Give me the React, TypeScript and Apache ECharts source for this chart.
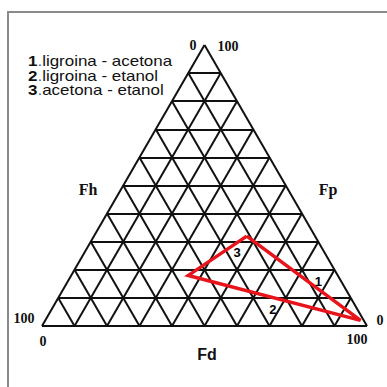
import React, { useEffect, useRef } from "react";
import * as echarts from "echarts";

// Ternary compositions (Fd, Fp, Fh) in percent
const solventNames = ["acetona", "etanol", "ligroina"];
const fdValues = [47, 36, 97];
const fpValues = [32, 18, 2];
const fhValues = [21, 46, 1];

// Positions of the pair markers along the triangle edges (Fd, Fp, Fh)
const pairLabels = ["1", "2", "3"];
const pairFd = [77, 68, 47];
const pairFp = [16, 6, 26];
const pairFh = [7, 26, 27];

const legendLines = ["ligroina - acetona", "ligroina - etanol", "acetona - etanol"];

// Grid divisions of each fraction
const gridTicks = [0, 10, 20, 30, 40, 50, 60, 70, 80, 90];

const H = Math.sqrt(3) / 2;

// Fd grows toward the right corner, Fp toward the apex, Fh toward the left corner
function toXY(fd: number, fp: number, _fh: number): [number, number] {
  return [(fd + fp / 2) / 100, (fp / 100) * H];
}

export default function App() {
  const ref = useRef<HTMLDivElement>(null);

  useEffect(() => {
    document.body.style.margin = "0";
    if (!ref.current) return;
    const chart = echarts.init(ref.current, undefined, { renderer: "svg" });

    const gridLines: { coords: [number, number][] }[] = [];
    gridTicks.forEach((t) => {
      // constant Fp
      gridLines.push({ coords: [toXY(0, t, 100 - t), toXY(100 - t, t, 0)] });
      // constant Fd
      gridLines.push({ coords: [toXY(t, 0, 100 - t), toXY(t, 100 - t, 0)] });
      // constant Fh
      gridLines.push({ coords: [toXY(100 - t, 0, t), toXY(0, 100 - t, t)] });
    });

    const tri = solventNames.map((_, i) => toXY(fdValues[i], fpValues[i], fhValues[i]));
    tri.push(tri[0]);

    const pairs = pairLabels.map((name, i) => {
      const [x, y] = toXY(pairFd[i], pairFp[i], pairFh[i]);
      return [x, y, i];
    });

    const serif = "'Liberation Serif', 'DejaVu Serif', serif";
    const sans = "'Liberation Sans', Arial, sans-serif";
    const corner = (text: string, x: number, y: number) => ({
      type: "text",
      x,
      y,
      style: {
        text,
        fontFamily: serif,
        fontWeight: "bold",
        fontSize: 14,
        fill: "#111",
        align: "center",
        verticalAlign: "middle",
      },
    });

    chart.setOption({
      animation: false,
      backgroundColor: "#fff",
      grid: { left: 42, right: 20, top: 45, bottom: 61 },
      xAxis: { type: "value", min: 0, max: 1, show: false },
      yAxis: { type: "value", min: 0, max: H, show: false },
      series: [
        {
          type: "lines",
          coordinateSystem: "cartesian2d",
          data: gridLines,
          lineStyle: { color: "#111", width: 2, opacity: 1 },
          silent: true,
          z: 1,
        },
        {
          type: "line",
          data: tri,
          symbol: "none",
          lineStyle: { color: "#e8141c", width: 3.5, join: "miter" },
          silent: true,
          z: 2,
        },
        {
          type: "custom",
          data: pairs,
          silent: true,
          z: 5,
          renderItem: (_params: any, api: any) => {
            const p = api.coord([api.value(0), api.value(1)]);
            return {
              type: "text",
              x: p[0],
              y: p[1],
              style: {
                text: pairLabels[api.value(2)],
                fill: "#000",
                fontFamily: sans,
                fontWeight: "bold",
                fontSize: 13,
                align: "center",
                verticalAlign: "middle",
              },
            };
          },
        },
      ],
      graphic: [
        {
          type: "rect",
          shape: { x: 8, y: 12, width: 420, height: 420 },
          style: { fill: "none", stroke: "#8a8a8a", lineWidth: 2 },
          silent: true,
        },
        {
          type: "text",
          x: 28,
          y: 54,
          scaleX: 1.13,
          style: {
            text: legendLines.map((t, i) => `{n|${i + 1}}{d|.}${t}`).join("\n"),
            rich: {
              n: { fontFamily: sans, fontWeight: "bold", fontSize: 15, fill: "#111", lineHeight: 14.5 },
              d: { fontFamily: sans, fontSize: 15, fill: "#4a6a9a", lineHeight: 14.5 },
            },
            fontFamily: sans,
            fontSize: 15,
            lineHeight: 14.5,
            fill: "#111",
          },
        },
        corner("0", 193, 45),
        corner("100", 228, 46),
        corner("100", 24, 318),
        corner("0", 43, 341),
        corner("0", 380, 320),
        corner("100", 357, 339),
        { type: "text", x: 88, y: 189, style: { text: "Fh", fontFamily: serif, fontWeight: "bold", fontSize: 16, fill: "#111", align: "center", verticalAlign: "middle" } },
        { type: "text", x: 328, y: 189, style: { text: "Fp", fontFamily: serif, fontWeight: "bold", fontSize: 16, fill: "#111", align: "center", verticalAlign: "middle" } },
        { type: "text", x: 207, y: 354, style: { text: "Fd", fontFamily: sans, fontWeight: "bold", fontSize: 16, fill: "#111", align: "center", verticalAlign: "middle" } },
      ],
    });

    return () => chart.dispose();
  }, []);

  return <div ref={ref} style={{ width: 387, height: 387 }} />;
}
